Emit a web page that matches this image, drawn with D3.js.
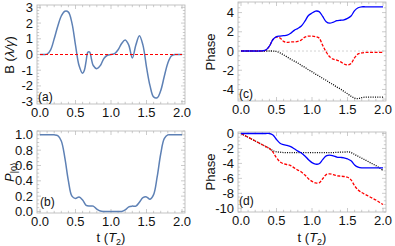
<!DOCTYPE html>
<html>
<head>
<meta charset="utf-8">
<script src="https://cdn.jsdelivr.net/npm/d3@7"></script>
<style>
  body { margin: 0; background: #fff; }
  svg { font-family: "Liberation Sans", Arial, sans-serif; }
</style>
</head>
<body>
<svg id="fig" width="395" height="246"></svg>
<script>
var width = 395;
var height = 246;

// time grid (units of T2)
var tGrid = d3.range(41).map(function(i){ return +(i * 0.05).toFixed(2); });

// (a) control field B
var tA = [0,0.05,0.1,0.15,0.2,0.25,0.3,0.35,0.4,0.45,0.5,0.55,0.6,0.625,0.65,0.675,0.7,0.725,0.75,0.8,0.85,0.9,0.95,1.0,1.05,1.1,1.15,1.2,1.25,1.3,1.35,1.4,1.45,1.5,1.55,1.6,1.65,1.7,1.75,1.8,1.85,1.9,1.95,2.0];
var bA = [0,0,0.02,0.3,1.0,1.8,2.45,2.75,2.7,2.0,0.6,-0.7,-1.2,-1.0,-0.4,0.15,0.15,-0.3,-0.7,-0.9,-0.7,-0.25,-0.05,0,0.05,0.3,0.7,0.92,0.6,-0.22,0.6,1.2,0.6,-0.8,-2.0,-2.7,-2.75,-2.3,-1.4,-0.55,-0.1,0,0,0];

// (b) population P|0>
var pB = [1,1,1,1,1,0.99,0.92,0.7,0.4,0.2,0.17,0.19,0.15,0.08,0.07,0.07,0.03,0.005,0,0,0,0,0,0,0.02,0.06,0.07,0.07,0.12,0.18,0.19,0.16,0.22,0.45,0.75,0.95,1,1,1,1,1];

// (c) phases
var blueC = [0,0,0,0,0,0,0.02,0.1,0.5,1.2,1.5,1.55,1.6,1.65,1.85,2.15,2.35,2.6,3.1,3.7,3.95,4.15,4.1,3.6,3.05,2.9,3.0,3.15,3.2,3.25,3.4,3.65,4.2,4.5,4.6,4.6,4.6,4.6,4.6,4.6,4.6];
var redC = [0,0,0,0,0,0,0,0.1,0.5,1.2,1.45,1.35,1.0,0.9,0.95,0.95,1.0,1.15,1.45,1.55,1.55,1.5,1.35,0.6,-0.1,-0.6,-0.85,-0.95,-1.1,-1.35,-1.45,-1.3,-0.7,-0.3,-0.2,-0.15,-0.15,-0.15,-0.15,-0.15,-0.15];
var blackC = [0,0,0,0,0,0,0,0,0,0,-0.05,-0.2,-0.4,-0.62,-0.85,-1.05,-1.25,-1.5,-1.7,-1.95,-2.15,-2.4,-2.6,-2.85,-3.05,-3.3,-3.5,-3.75,-3.95,-4.2,-4.45,-4.7,-4.9,-4.95,-4.85,-4.8,-4.8,-4.8,-4.8,-4.8,-4.8];

// (d) phases
var blueD = [0,0,0,0,0,0,0,0,0,-0.2,-0.8,-1.3,-1.5,-1.6,-1.75,-2.05,-2.35,-2.6,-3.0,-3.5,-3.9,-4.1,-4.05,-3.5,-3.0,-2.9,-3.0,-3.15,-3.2,-3.25,-3.4,-3.65,-4.2,-4.5,-4.6,-4.6,-4.6,-4.6,-4.6,-4.6,-4.6];
var redD = [0,-0.25,-0.5,-0.75,-1.0,-1.25,-1.5,-1.75,-2.0,-2.5,-3.25,-3.8,-4.05,-4.15,-4.3,-4.6,-4.9,-5.15,-5.55,-6.05,-6.4,-6.6,-6.6,-6.05,-5.5,-5.4,-5.5,-5.65,-5.7,-5.75,-5.85,-6.2,-7.0,-7.55,-7.9,-8.15,-8.4,-8.65,-8.9,-9.2,-9.5];
var blackD = [0,-0.25,-0.5,-0.75,-1.0,-1.25,-1.5,-1.75,-2.0,-2.3,-2.45,-2.5,-2.55,-2.55,-2.55,-2.55,-2.55,-2.55,-2.55,-2.55,-2.55,-2.55,-2.55,-2.55,-2.55,-2.55,-2.55,-2.52,-2.5,-2.5,-2.45,-2.55,-2.8,-3.05,-3.3,-3.55,-3.8,-4.05,-4.3,-4.6,-4.95];

var xTicks = [0, 0.5, 1.0, 1.5, 2.0];
var yTicksA = [-3,-2,-1,0,1,2,3];
var yTicksB = [0,0.2,0.4,0.6,0.8,1.0];
var yTicksC = [-4,-2,0,2,4];
var yTicksD = [-10,-8,-6,-4,-2,0];

var svg = d3.select("#fig");

var panels = [
  { id: "a", fx: [37,185], fy: [5,104], xr: [40,182], yd: [-3.15,3.15], yt: yTicksA, ym: 0.2, yfmt: d3.format("d"), tag: "(a)", tagPos: [38,101] },
  { id: "b", fx: [37,185], fy: [131,213], xr: [40,182], yd: [-0.02,1.05], yt: yTicksB, ym: 0.05, yfmt: d3.format(".1f"), tag: "(b)", tagPos: [40,206] },
  { id: "c", fx: [238,386], fy: [2,101], xr: [241,383], yd: [-5.2,5.1], yt: yTicksC, ym: 0.5, yfmt: d3.format("d"), tag: "(c)", tagPos: [239,98] },
  { id: "d", fx: [238,386], fy: [132,212], xr: [241,383], yd: [-10.5,0.2], yt: yTicksD, ym: 0.5, yfmt: d3.format("d"), tag: "(d)", tagPos: [239,205] }
];

panels.forEach(function(p){
  p.x = d3.scaleLinear().domain([0,2]).range(p.xr);
  var y0 = p.fy[1], y1 = p.fy[0];
  p.y = d3.scaleLinear().domain(p.yd).range([y0, y1]);
  var g = svg.append("g").attr("class", "panel-" + p.id);
  p.g = g;

  // minor/major ticks on all four sides
  var xMinor = d3.range(0, 2.0001, 0.1);
  var yMinor = d3.range(Math.ceil(p.yd[0] / p.ym) * p.ym, p.yd[1] + 1e-9, p.ym);
  var tk = g.append("g").attr("stroke", "#aaa").attr("stroke-width", 0.6);
  xMinor.forEach(function(t){
    var major = Math.abs(t * 2 - Math.round(t * 2)) < 1e-6;
    var L = major ? 4 : 2.2;
    tk.append("line").attr("x1", p.x(t)).attr("x2", p.x(t)).attr("y1", p.fy[1]).attr("y2", p.fy[1] - L);
    tk.append("line").attr("x1", p.x(t)).attr("x2", p.x(t)).attr("y1", p.fy[0]).attr("y2", p.fy[0] + L);
  });
  yMinor.forEach(function(v){
    var major = p.yt.some(function(m){ return Math.abs(m - v) < 1e-6; });
    var L = major ? 4 : 2.2;
    tk.append("line").attr("y1", p.y(v)).attr("y2", p.y(v)).attr("x1", p.fx[0]).attr("x2", p.fx[0] + L);
    tk.append("line").attr("y1", p.y(v)).attr("y2", p.y(v)).attr("x1", p.fx[1]).attr("x2", p.fx[1] - L);
  });

  g.append("rect")
    .attr("x", p.fx[0]).attr("y", p.fy[0])
    .attr("width", p.fx[1] - p.fx[0]).attr("height", p.fy[1] - p.fy[0])
    .attr("fill", "none").attr("stroke", "#b4b4b4").attr("stroke-width", 0.8);

  // tick labels
  g.selectAll("text.xl").data(xTicks).enter().append("text")
    .attr("x", function(d){ return p.x(d); })
    .attr("y", p.fy[1] + 13)
    .attr("text-anchor", "middle")
    .style("font-size", "13px").attr("fill", "#111")
    .text(function(d){ return d3.format(".1f")(d); });
  g.selectAll("text.yl").data(p.yt).enter().append("text")
    .attr("x", p.fx[0] - 4)
    .attr("y", function(d){ return p.y(d) + 4.5; })
    .attr("text-anchor", "end")
    .style("font-size", "13px").attr("fill", "#111")
    .text(function(d){ return p.yfmt(d).replace("\u2212", "-"); });

  g.append("text")
    .attr("x", p.tagPos[0]).attr("y", p.tagPos[1])
    .style("font-size", "12px").attr("fill", "#111")
    .text(p.tag);
});

function lineFor(p, xs) {
  return d3.line()
    .x(function(d, i){ return p.x(xs[i]); })
    .y(function(d){ return p.y(d); })
    .curve(d3.curveCatmullRom.alpha(0.5));
}

// (a)
var pa = panels[0];
pa.g.append("path").datum(bA).attr("d", lineFor(pa, tA))
  .attr("fill", "none").attr("stroke", "#5e81b5").attr("stroke-width", 1.5);
pa.g.append("line")
  .attr("x1", pa.x(0)).attr("x2", pa.x(2)).attr("y1", pa.y(0)).attr("y2", pa.y(0))
  .attr("stroke", "#ff0000").attr("stroke-width", 1.2).attr("stroke-dasharray", "3,2");

// (b)
var pb = panels[1];
pb.g.append("path").datum(pB).attr("d", lineFor(pb, tGrid))
  .attr("fill", "none").attr("stroke", "#5e81b5").attr("stroke-width", 1.5);

// (c)
var pc = panels[2];
pc.g.append("line")
  .attr("x1", pc.fx[0]).attr("x2", pc.fx[1]).attr("y1", pc.y(0)).attr("y2", pc.y(0))
  .attr("stroke", "#c8c8c8").attr("stroke-width", 0.8).attr("stroke-dasharray", "2,2");
[[blackC, "#000", "1,1.3"], [redC, "#ff0000", "3,1.5"], [blueC, "#0000ff", null]].forEach(function(s){
  pc.g.append("path").datum(s[0]).attr("d", lineFor(pc, tGrid))
    .attr("fill", "none").attr("stroke", s[1]).attr("stroke-width", 1.3)
    .attr("stroke-dasharray", s[2]);
});

// (d)
var pd = panels[3];
[[blackD, "#000", "1,1.3"], [redD, "#ff0000", "3,1.5"], [blueD, "#0000ff", null]].forEach(function(s){
  pd.g.append("path").datum(s[0]).attr("d", lineFor(pd, tGrid))
    .attr("fill", "none").attr("stroke", s[1]).attr("stroke-width", 1.3)
    .attr("stroke-dasharray", s[2]);
});

// axis titles
var ta = svg.append("text").attr("transform", "translate(14,55) rotate(-90)")
  .attr("text-anchor", "middle").style("font-size", "13px").attr("fill", "#111");
ta.append("tspan").text("B (");
ta.append("tspan").style("font-style", "italic").text("\u03bb/\u03b3");
ta.append("tspan").text(")");

var tb = svg.append("text").attr("transform", "translate(14,172) rotate(-90)")
  .attr("text-anchor", "middle").style("font-size", "13px").attr("fill", "#111");
tb.append("tspan").style("font-style", "italic").text("P");
tb.append("tspan").attr("dy", 3).style("font-size", "9px").text("|0\u27e9");

[52, 172].forEach(function(cy){
  svg.append("text").attr("transform", "translate(215," + cy + ") rotate(-90)")
    .attr("text-anchor", "middle").style("font-size", "13px").attr("fill", "#111")
    .text("Phase");
});

[111, 312].forEach(function(cx){
  var t = svg.append("text").attr("x", cx).attr("y", 242)
    .attr("text-anchor", "middle").style("font-size", "13px").attr("fill", "#111");
  t.append("tspan").text("t (");
  t.append("tspan").style("font-style", "italic").text("T");
  t.append("tspan").attr("dy", 3).style("font-size", "9px").text("2");
  t.append("tspan").attr("dy", -3).text(")");
});
</script>
</body>
</html>
